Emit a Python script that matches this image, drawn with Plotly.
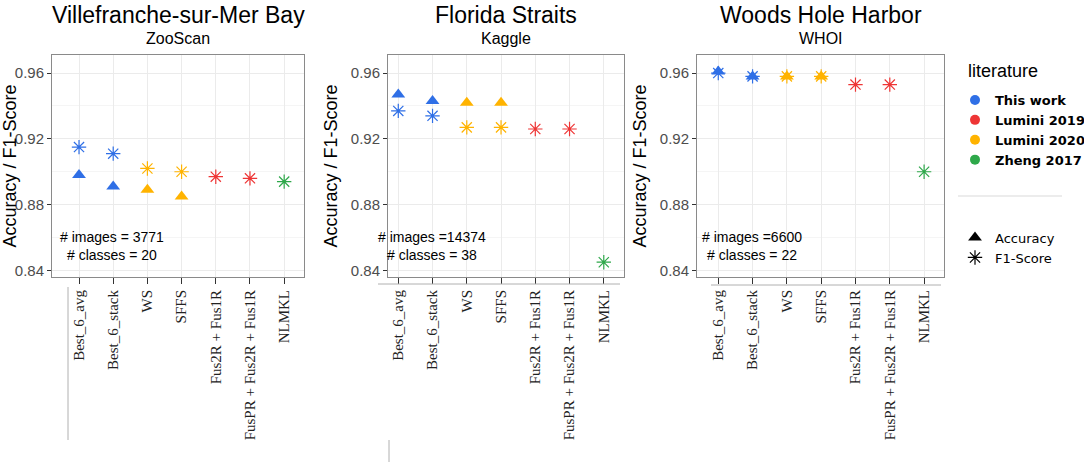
import plotly.graph_objects as go

W, H = 1084, 462

methods = ["Best_6_avg", "Best_6_stack", "WS", "SFFS", "Fus2R + Fus1R",
           "FusPR + Fus2R + Fus1R", "NLMKL"]
literature = ["This work", "This work", "Lumini 2020", "Lumini 2020",
              "Lumini 2019", "Lumini 2019", "Zheng 2017"]
lit_order = ["This work", "Lumini 2019", "Lumini 2020", "Zheng 2017"]
lit_colors = {"This work": "#2f6fe6", "Lumini 2019": "#ee3535",
              "Lumini 2020": "#ffb300", "Zheng 2017": "#2ea84a"}

titles = ["Villefranche-sur-Mer Bay", "Florida Straits", "Woods Hole Harbor"]
datasets = ["ZooScan", "Kaggle", "WHOI"]
notes = ["# images = 3771<br># classes = 20",
         "# images =14374<br># classes = 38",
         "# images =6600<br># classes = 22"]

zooscan_acc = [0.898, 0.891, 0.889, 0.885, None, None, None]
zooscan_f1 = [0.915, 0.911, 0.902, 0.900, 0.897, 0.896, 0.894]
kaggle_acc = [0.947, 0.943, 0.942, 0.942, None, None, None]
kaggle_f1 = [0.937, 0.934, 0.927, 0.927, 0.926, 0.926, 0.845]
whoi_acc = [0.961, 0.958, 0.958, 0.958, None, None, None]
whoi_f1 = [0.960, 0.958, 0.958, 0.958, 0.953, 0.953, 0.900]

acc = [zooscan_acc, kaggle_acc, whoi_acc]
f1 = [zooscan_f1, kaggle_f1, whoi_f1]

# panel boxes in pixels (left, right) and x ranges (labels image was offset a bit)
boxes = [(52, 304), (388, 624), (697, 944)]
xranges = [[-0.79, 6.58], [-0.30, 6.59], [-0.62, 6.58]]
top, bottom = 55, 277

fig = go.Figure()

for p in range(3):
    xa = "x" if p == 0 else "x%d" % (p + 1)
    ya = "y" if p == 0 else "y%d" % (p + 1)
    for lit in lit_order:
        idx = [i for i in range(len(methods)) if literature[i] == lit]
        ax = [methods[i] for i in idx if acc[p][i] is not None]
        ay = [acc[p][i] for i in idx if acc[p][i] is not None]
        if ax:
            fig.add_trace(go.Scatter(
                x=ax, y=ay, mode="markers", xaxis=xa, yaxis=ya, showlegend=False,
                marker=dict(symbol="triangle-up", size=12, color=lit_colors[lit])))
        fx = [methods[i] for i in idx]
        fy = [f1[p][i] for i in idx]
        fig.add_trace(go.Scatter(
            x=fx, y=fy, mode="markers", xaxis=xa, yaxis=ya, showlegend=False,
            marker=dict(symbol="asterisk-open", size=12, color=lit_colors[lit],
                        line=dict(color=lit_colors[lit], width=1.2))))

# legend entries
for lit in lit_order:
    fig.add_trace(go.Scatter(
        x=[None], y=[None], mode="markers", name="<b>" + lit + "</b>",
        legendgroup="lit", marker=dict(symbol="circle", size=10, color=lit_colors[lit])))
fig.add_trace(go.Scatter(x=[None], y=[None], mode="markers", name="Accuracy",
                         legendgroup="shape",
                         marker=dict(symbol="triangle-up", size=12, color="black")))
fig.add_trace(go.Scatter(x=[None], y=[None], mode="markers", name="F1-Score",
                         legendgroup="shape",
                         marker=dict(symbol="asterisk-open", size=12, color="black",
                                     line=dict(color="black", width=1.2))))

ann = []
shapes = []
for p in range(3):
    l, r = boxes[p]
    sfx = "" if p == 0 else str(p + 1)
    fig.layout["xaxis" + sfx] = dict(
        domain=[l / W, r / W], anchor="y" + sfx, type="category",
        categoryorder="array", categoryarray=methods, range=xranges[p],
        showgrid=True, gridcolor="#ebebeb", gridwidth=1,
        showline=True, linecolor="#8a8a8a", linewidth=1, mirror=True,
        ticks="outside", ticklen=6, tickcolor="#333", tickangle=-90,
        tickfont=dict(family="Liberation Serif", size=15, color="#222"),
        zeroline=False, automargin=False)
    fig.layout["yaxis" + sfx] = dict(
        domain=[1 - bottom / H, 1 - top / H], anchor="x" + sfx,
        range=[0.836, 0.971], tick0=0.84, dtick=0.04, tickformat=".2f",
        showgrid=True, gridcolor="#ebebeb", gridwidth=1,
        minor=dict(dtick=0.02, showgrid=True, gridcolor="#f5f5f5", gridwidth=1),
        showline=True, linecolor="#8a8a8a", linewidth=1, mirror=True,
        ticks="outside", ticklen=4, tickcolor="#333",
        tickfont=dict(family="Arial", size=15, color="#4d4d4d"),
        title=dict(text="Accuracy / F1-Score", standoff=8,
                   font=dict(family="Arial", size=18, color="black")),
        zeroline=False, automargin=False)
    cx = (l + r) / 2 / W
    ann.append(dict(x=cx, y=1 - 15 / H, xref="paper", yref="paper", text=titles[p],
                    xanchor="center", yanchor="middle",
                    showarrow=False, font=dict(family="Arial", size=23, color="black")))
    ann.append(dict(x=cx, y=1 - 39 / H, xref="paper", yref="paper", text=datasets[p],
                    xanchor="center", yanchor="middle",
                    showarrow=False, font=dict(family="Arial", size=16, color="black")))

note_x = [112, 432, 752]
for p in range(3):
    ann.append(dict(x=note_x[p] / W, y=1 - 246 / H, xref="paper", yref="paper",
                    text=notes[p], showarrow=False, align="center",
                    xanchor="center", yanchor="middle",
                    font=dict(family="Arial", size=14, color="black")))

ann.append(dict(x=966 / W, y=1 - 71 / H, xref="paper", yref="paper", text="literature",
                xanchor="left", yanchor="middle", showarrow=False,
                font=dict(family="Arial", size=18, color="black")))

# leftover lines from the pasted label strips
gray = dict(color="#b0b0b0", width=1)
shapes.append(dict(type="line", xref="paper", yref="paper", x0=68 / W, x1=68 / W,
                   y0=1 - 287 / H, y1=1 - 440 / H, line=gray))
shapes.append(dict(type="line", xref="paper", yref="paper", x0=389 / W, x1=389 / W,
                   y0=1 - 440 / H, y1=0, line=gray))
shapes.append(dict(type="line", xref="paper", yref="paper", x0=378 / W, x1=620 / W,
                   y0=1 - 284 / H, y1=1 - 284 / H, line=gray))
shapes.append(dict(type="line", xref="paper", yref="paper", x0=711 / W, x1=941 / W,
                   y0=1 - 285 / H, y1=1 - 285 / H, line=gray))
# legend separator
shapes.append(dict(type="line", xref="paper", yref="paper", x0=958 / W, x1=1062 / W,
                   y0=1 - 196 / H, y1=1 - 196 / H, line=dict(color="#d9d9d9", width=1)))

fig.update_layout(
    width=W, height=H, margin=dict(l=0, r=0, t=0, b=0, autoexpand=False),
    paper_bgcolor="white", plot_bgcolor="white",
    annotations=ann, shapes=shapes,
    legend=dict(x=955 / W, y=1 - 85 / H, xanchor="left", yanchor="top",
                font=dict(family="DejaVu Sans", size=13, color="black"),
                tracegroupgap=58, bgcolor="rgba(0,0,0,0)"),
)

# drop the browser's default 8px body margin so the figure sits at the page corner
fig.write_html("out.html", config={"displayModeBar": False},
               post_script="document.body.style.margin='0px';")
